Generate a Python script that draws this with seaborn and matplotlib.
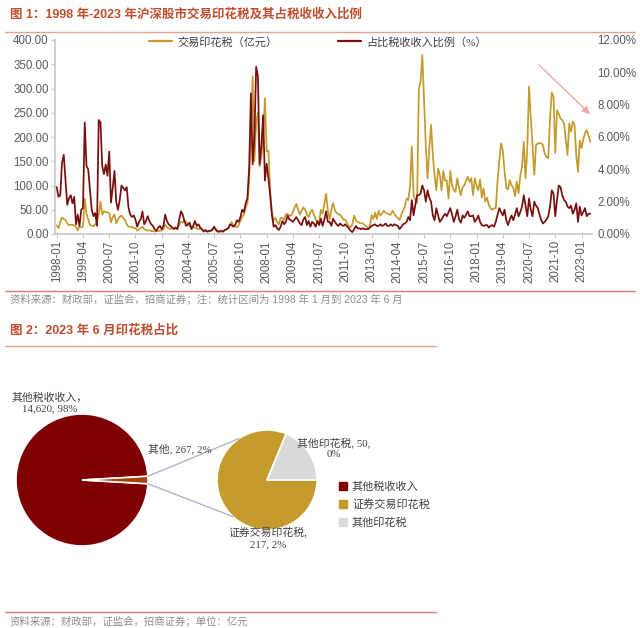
import numpy as np
import pandas as pd
import matplotlib
matplotlib.use("Agg")
import matplotlib.pyplot as plt
import seaborn as sns
from matplotlib.lines import Line2D
from matplotlib.ticker import FuncFormatter, MultipleLocator

# 月度数据 1998-01 ~ 2023-06
# 交易印花税（亿元）
stamp_tax = [
    18, 12, 25, 34, 31, 29, 22, 18, 19, 19, 18, 15,            # 1998
    7, 16, 14, 15, 73, 42, 30, 18, 17, 16, 20, 25,             # 1999
    40, 67, 40, 47, 45, 45, 43, 24, 35, 40, 22, 30,            # 2000
    36, 38, 33, 29, 20, 15, 15, 15, 12, 12, 7, 10,             # 2001
    12, 15, 10, 8, 7, 8, 6, 6, 5, 6, 6, 7,                     # 2002
    7, 10, 19, 14, 12, 10, 12, 13, 11, 13, 18, 25,             # 2003
    24, 28, 25, 20, 16, 14, 15, 13, 12, 10, 11, 10,            # 2004
    7, 6, 5, 5, 6, 8, 12, 10, 6, 5, 5, 5,                      # 2005
    7, 9, 12, 16, 25, 18, 16, 14, 18, 27, 35, 40,              # 2006
    55, 63, 110, 200, 325, 150, 230, 250, 140, 160, 200, 280,  # 2007
    170, 172, 90, 45, 27, 33, 25, 20, 33, 33, 29, 41,          # 2008
    41, 38, 38, 45, 55, 62, 50, 40, 48, 55, 50, 40,            # 2009
    35, 45, 50, 40, 30, 25, 25, 50, 42, 63, 83, 48,            # 2010
    31, 50, 64, 48, 44, 40, 40, 35, 29, 30, 22, 16,            # 2011
    14, 20, 38, 28, 25, 23, 22, 22, 18, 16, 12, 16,            # 2012
    39, 31, 44, 31, 48, 38, 42, 48, 44, 42, 40, 40,            # 2013
    48, 42, 36, 33, 29, 40, 48, 57, 73, 70, 100, 180,          # 2014
    80, 70, 64, 300, 314, 369, 273, 180, 115, 177, 225, 163,   # 2015
    120, 90, 135, 123, 90, 130, 110, 110, 73, 130, 100, 90,    # 2016
    87, 115, 95, 80, 97, 100, 110, 118, 107, 115, 80, 115,     # 2017
    100, 90, 112, 75, 94, 67, 75, 60, 53, 50, 53, 53,          # 2018
    110, 150, 187, 173, 130, 95, 92, 111, 100, 95, 78, 108,    # 2019
    84, 120, 139, 190, 115, 176, 304, 240, 183, 122, 183, 187, # 2020
    187, 187, 183, 165, 159, 156, 238, 292, 283, 167, 255, 248,  # 2021
    238, 235, 228, 195, 163, 228, 211, 232, 225, 163, 128, 193,  # 2022
    177, 195, 208, 214, 204, 190,                                # 2023
]

# 占比税收收入比例（%）
tax_ratio = [
    2.9, 2.3, 2.4, 4.4, 4.9, 3.3, 1.8, 2.2, 2.4, 1.9, 2.3, 0.6,
    1.2, 0.5, 1.5, 1.6, 6.9, 4.2, 4.0, 2.7, 1.5, 1.1, 1.3, 0.5,
    7.05, 6.9, 4.2, 3.7, 4.3, 3.6, 5.1, 1.95, 2.85, 3.9, 2.0, 1.5,
    2.1, 3.0, 2.85, 2.7, 2.9, 1.65, 1.2, 1.05, 1.15, 0.9, 0.45, 0.75,
    0.9, 1.4, 0.6, 0.8, 1.1, 0.8, 0.6, 0.5, 0.3, 0.2, 0.4, 0.5,
    0.3, 0.5, 1.2, 0.8, 0.6, 0.5, 0.4, 0.3, 0.4, 0.3, 0.9, 1.4,
    1.2, 0.8, 0.5, 0.6, 0.7, 0.3, 0.5, 0.8, 0.5, 0.6, 0.4, 0.3,
    0.15, 0.25, 0.15, 0.2, 0.2, 0.3, 0.45, 0.25, 0.15, 0.15, 0.2, 0.15,
    0.25, 0.3, 0.35, 0.6, 0.55, 0.45, 0.55, 0.85, 0.75, 1.05, 1.5, 1.35,
    1.9, 2.2, 4.1, 8.7, 4.3, 6.0, 10.35, 9.75, 4.3, 5.5, 7.35, 3.3,
    4.35, 3.45, 2.4, 1.2, 0.45, 0.55, 0.35, 0.25, 0.45, 0.8, 0.6, 0.75,
    1.15, 0.9, 0.85, 0.75, 0.9, 1.05, 0.85, 0.65, 0.55, 0.9, 1.05, 0.55,
    0.8, 0.45, 0.75, 0.65, 0.45, 0.8, 0.55, 0.95, 0.5, 0.9, 1.4, 0.75,
    0.75, 0.5, 0.95, 0.75, 0.6, 0.5, 0.65, 0.55, 0.5, 0.6, 0.45, 0.35,
    0.2, 0.12, 0.3, 0.5, 0.35, 0.35, 0.3, 0.35, 0.3, 0.3, 0.3, 0.4,
    0.5, 0.55, 0.6, 0.5, 0.5, 0.6, 0.5, 0.55, 0.65, 0.5, 0.5, 0.6,
    0.5, 0.6, 0.55, 0.5, 0.3, 0.45, 0.6, 0.65, 0.75, 1.05, 0.85, 2.1,
    1.15, 1.8, 2.4, 2.4, 2.5, 3.0, 2.7, 2.0, 2.7, 2.25, 2.0, 1.15,
    0.85, 1.6, 1.15, 0.75, 0.9, 1.1, 1.25, 1.1, 1.35, 1.6, 1.2, 0.75,
    1.1, 1.5, 0.9, 0.7, 1.15, 1.0, 1.2, 1.4, 1.1, 1.1, 1.15, 0.75,
    0.9, 1.15, 0.75, 0.55, 0.5, 0.55, 0.55, 0.4, 0.5, 0.55, 0.45, 0.75,
    1.2, 1.6, 1.35, 1.15, 1.5, 0.85, 0.55, 0.9, 1.15, 0.85, 1.2, 1.6,
    1.1, 1.35, 1.7, 2.4, 1.75, 1.1, 2.2, 1.5, 1.1, 2.0, 1.75, 1.6,
    1.2, 0.85, 0.65, 0.75, 0.9, 1.1, 1.7, 2.7, 2.5, 1.1, 2.1, 3.0,
    2.9, 2.4, 2.1, 2.0, 1.7, 1.6, 1.75, 1.25, 1.5, 1.9, 0.75, 1.7,
    1.15, 1.35, 1.6, 1.1, 1.25, 1.25,
]

months = pd.date_range("1998-01-01", periods=len(stamp_tax), freq="MS")
tick_step = 15

# 图2 饼图数据（亿元）
main_names = ["其他税收收入", "其他"]
main_values = [14620, 267]
main_pct = ["98%", "2%"]
sub_names = ["证券交易印花税", "其他印花税"]
sub_values = [217, 50]
sub_pct = ["2%", "0%"]

GOLD = "#C49A2C"
RED = "#7A0E0E"
DARKRED = "#7F0000"
BROWN = "#A5400F"
GRAY = "#D9D9D9"
TITLE_C = "#BF4E2E"
TXT = "#404040"
TICK = "#595959"

sns.set_theme(style="white")
plt.rcParams["font.family"] = ["Liberation Sans", "Noto Sans CJK SC"]
SERIF = ["Liberation Serif", "Noto Sans CJK SC"]

W, H = 640, 628
fig = plt.figure(figsize=(W / 100, H / 100), dpi=100)


def fx(px):
    return px / W


def fy(py):
    return 1 - py / H


# ---------- 图1 ----------
df = pd.DataFrame({"idx": np.arange(len(months)), "stamp": stamp_tax, "ratio": tax_ratio})

ax = fig.add_axes([fx(55), fy(234), fx(592) - fx(55), fy(40) - fy(234)])
sns.lineplot(data=df, x="idx", y="stamp", ax=ax, color=GOLD, lw=1.25)
ax2 = ax.twinx()
sns.lineplot(data=df, x="idx", y="ratio", ax=ax2, color=RED, lw=1.25)

ax.set_xlim(-1, len(months))
ax.set_ylim(0, 400)
ax2.set_ylim(0, 12)
ax.yaxis.set_major_locator(MultipleLocator(50))
ax.yaxis.set_major_formatter(FuncFormatter(lambda v, p: f"{v:.2f}"))
ax2.yaxis.set_major_locator(MultipleLocator(2))
ax2.yaxis.set_major_formatter(FuncFormatter(lambda v, p: f"{v:.2f}%"))
ticks = np.arange(0, len(months), tick_step)
ax.set_xticks(ticks)
ax.set_xticklabels(months[ticks].strftime("%Y-%m"), rotation=90)
for a in (ax, ax2):
    a.set_xlabel("")
    a.set_ylabel("")
    for s in a.spines.values():
        s.set_visible(False)
ax.spines["left"].set_visible(True)
ax.spines["bottom"].set_visible(True)
ax.spines["left"].set_color("#C8C8C8")
ax.spines["bottom"].set_color("#C8C8C8")
ax.tick_params(axis="both", left=True, bottom=True, length=3, width=0.8, color="#C8C8C8",
               labelcolor=TICK, labelsize=8.3, pad=1.5)
ax2.tick_params(axis="y", right=False, length=0, labelcolor=TICK, labelsize=8.3, pad=4)

leg_handles = [Line2D([0], [0], color=GOLD, lw=1.6), Line2D([0], [0], color=RED, lw=1.6)]
fig.legend(leg_handles, ["交易印花税（亿元）", "占比税收收入比例（%）"], loc="center",
           bbox_to_anchor=(fx(318), fy(42)), ncol=2, frameon=False,
           prop={"family": SERIF, "size": 8}, labelcolor=TXT,
           handlelength=2.1, handletextpad=0.5, columnspacing=5.4)

ax.annotate("", xy=(fx(592), fy(116)), xytext=(fx(537), fy(63)),
            xycoords="figure fraction", textcoords="figure fraction",
            arrowprops=dict(arrowstyle="-|>", color="#EBA9A6", lw=1.0, mutation_scale=11))

fig.text(fx(10), fy(14), "图 1：1998 年-2023 年沪深股市交易印花税及其占税收收入比例",
         ha="left", va="center", fontsize=9, fontweight="bold", color=TITLE_C)
fig.add_artist(Line2D([fx(5), fx(635)], [fy(32), fy(32)], color="#E6A28F", lw=1.0))
fig.add_artist(Line2D([fx(5), fx(635)], [fy(291), fy(291)], color="#E07A6E", lw=1.0))
fig.text(fx(10), fy(299), "资料来源：财政部，证监会，招商证券；注：统计区间为 1998 年 1 月到 2023 年 6 月",
         ha="left", va="center", fontsize=7.5, color="#8C8C8C")

# ---------- 图2 ----------
fig.text(fx(10), fy(331), "图 2：2023 年 6 月印花税占比",
         ha="left", va="center", fontsize=9, fontweight="bold", color=TITLE_C)
fig.add_artist(Line2D([fx(5), fx(436)], [fy(346), fy(346)], color="#E6A28F", lw=1.0))
fig.add_artist(Line2D([fx(5), fx(436)], [fy(612), fy(612)], color="#E07A6E", lw=1.0))
fig.text(fx(10), fy(621), "资料来源：财政部，证监会，招商证券；单位：亿元",
         ha="left", va="center", fontsize=7.5, color="#8C8C8C")

axp = fig.add_axes([0, 0, 1, 1])
axp.patch.set_visible(False)

c_main, r_main = (82, H - 480), 66
c_sub, r_sub = (267, H - 480), 50
main_start = main_values[1] / sum(main_values) * 360 / 2
sub_start = sub_values[1] / sum(sub_values) * 360
axp.pie(main_values, colors=[DARKRED, BROWN], startangle=main_start, center=c_main,
        radius=r_main, frame=True, wedgeprops=dict(edgecolor="white", linewidth=1.2))
axp.pie(sub_values, colors=[GOLD, GRAY], startangle=sub_start, center=c_sub,
        radius=r_sub, frame=True, wedgeprops=dict(edgecolor="white", linewidth=1.2))
axp.set_xlim(0, W)
axp.set_ylim(0, H)
axp.axis("off")


def rim(c, r, deg):
    t = np.radians(deg)
    return c[0] + r * np.cos(t), c[1] + r * np.sin(t)


for a_main, a_sub in [(main_start, 124), (-main_start, 227)]:
    p = rim(c_main, r_main, a_main)
    q = rim(c_sub, r_sub, a_sub)
    axp.plot([p[0], q[0]], [p[1], q[1]], color="#A7AEBE", lw=0.9)

lab_kw = dict(ha="center", va="center", fontsize=7.8, color=TXT, family=SERIF, linespacing=1.25)
axp.text(50, H - 403, f"{main_names[0]}，\n{main_values[0]:,}, {main_pct[0]}", **lab_kw)
axp.text(180, H - 449, f"{main_names[1]}, {main_values[1]:,}, {main_pct[1]}", **lab_kw)
axp.text(268, H - 538, f"{sub_names[0]},\n{sub_values[0]:,}, {sub_pct[0]}", **lab_kw)
axp.text(334, H - 448, f"{sub_names[1]}, {sub_values[1]:,},\n{sub_pct[1]}", **lab_kw)

pie_handles = [Line2D([0], [0], marker="s", linestyle="none", markersize=5.5,
                      markerfacecolor=c, markeredgecolor=c) for c in (DARKRED, GOLD, GRAY)]
fig.legend(pie_handles, [main_names[0], sub_names[0], sub_names[1]], loc="center left",
           bbox_to_anchor=(fx(327), fy(505)), frameon=False,
           prop={"family": SERIF, "size": 8}, labelcolor=TXT,
           handlelength=1.0, handletextpad=0.35, labelspacing=0.65)

fig.savefig("out.png", dpi=100, facecolor="white")
